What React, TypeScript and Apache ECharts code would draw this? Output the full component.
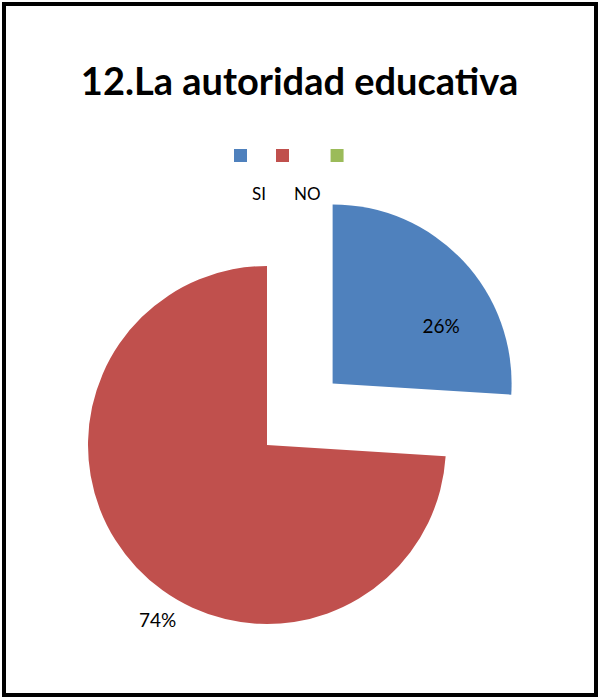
import React, { useEffect, useRef } from "react";
import * as echarts from "echarts";

const titleText = "12.La autoridad educativa";
const categories = ["SI", "NO", " "];
const values = [26, 74, 0];
const colors = ["#4F81BD", "#C0504D", "#9BBB59"];

export default function App() {
  const ref = useRef<HTMLDivElement>(null);
  useEffect(() => {
    if (!ref.current) return;
    const chart = echarts.init(ref.current, null, { renderer: "svg" });
    const labelShift = [
      [41, 5],
      [-42, 111],
      [0, 0],
    ];
    chart.setOption({
      animation: false,
      backgroundColor: "#ffffff",
      color: colors,
      title: {
        text: titleText,
        left: "center",
        top: 56,
        textStyle: {
          fontFamily: "Lato",
          fontWeight: "bold",
          fontSize: 38,
          color: "#000000",
        },
      },
      legend: {
        data: categories,
        top: 108,
        left: 234,
        padding: 0,
        icon: "rect",
        itemWidth: 13,
        itemHeight: 13,
        itemGap: 10,
        selectedMode: false,
        formatter: (name: string) => "\n\n\n\n" + name,
        textStyle: {
          fontFamily: "Lato",
          fontSize: 17,
          lineHeight: 19,
          color: "#000000",
        },
      },
      graphic: [
        {
          type: "rect",
          shape: { x: 4, y: 4, width: 592, height: 691 },
          style: { fill: "none", stroke: "#000000", lineWidth: 4 },
          silent: true,
        },
      ],
      series: [
        {
          type: "pie",
          center: [267, 445],
          radius: 179,
          startAngle: 90,
          clockwise: true,
          selectedMode: "single",
          selectedOffset: 90,
          stillShowZeroSum: true,
          emphasis: { disabled: true },
          labelLine: { show: false },
          label: {
            position: "inside",
            formatter: "{d}%",
            fontFamily: "Lato",
            fontSize: 19,
            color: "#000000",
          },
          labelLayout: (params: any) => ({
            dx: labelShift[params.dataIndex][0],
            dy: labelShift[params.dataIndex][1],
          }),
          data: categories.map((name, i) => ({
            name,
            value: values[i],
            selected: i === 0,
            label: { show: values[i] > 0 },
          })),
        },
      ],
    });
    return () => chart.dispose();
  }, []);
  return (
    <div
      ref={ref}
      style={{ position: "fixed", left: 0, top: 0, width: 599, height: 698 }}
    />
  );
}
